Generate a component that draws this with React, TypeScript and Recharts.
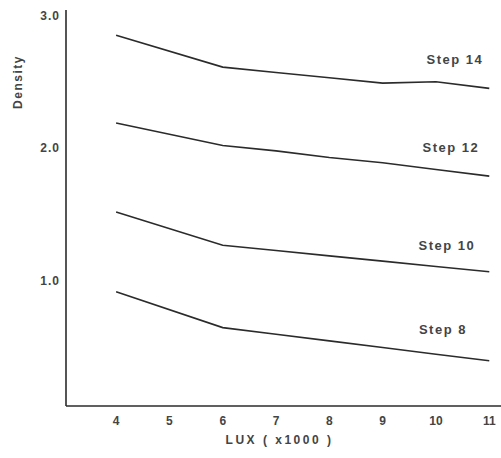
import { LineChart, Line, XAxis, YAxis, Label } from 'recharts';

// LUX values (x1000)
const LUX = [4, 6, 7, 8, 9, 10, 11];
const STEP_14 = [2.85, 2.61, 2.57, 2.53, 2.49, 2.5, 2.45];
const STEP_12 = [2.19, 2.02, 1.98, 1.93, 1.89, 1.84, 1.79];
const STEP_10 = [1.52, 1.27, 1.23, 1.19, 1.15, 1.11, 1.07];
const STEP_8 = [0.92, 0.65, 0.6, 0.55, 0.5, 0.45, 0.4];

const X_TICKS = [4, 5, 6, 7, 8, 9, 10, 11];
const Y_TICKS = [1, 2, 3];

const data = LUX.map((lux, i) => ({
  lux,
  step14: STEP_14[i],
  step12: STEP_12[i],
  step10: STEP_10[i],
  step8: STEP_8[i],
}));

// label sits above the point at LUX = 10
const SERIES = [
  { key: 'step14', name: 'Step 14', dx: 19, dy: -22 },
  { key: 'step12', name: 'Step 12', dx: 15, dy: -22 },
  { key: 'step10', name: 'Step 10', dx: 11, dy: -21 },
  { key: 'step8', name: 'Step 8', dx: 7, dy: -25 },
];

const LABEL_INDEX = LUX.indexOf(10);
const INK = '#2b2b2b';
const TEXT = '#444';
const FONT = '"Liberation Sans", Arial, sans-serif';

export default function App() {
  return (
    <div style={{ position: 'absolute', left: 0, top: 0, width: 501, height: 458, background: '#fff' }}>
      <LineChart width={501} height={458} data={data} margin={{ top: 10, right: 0, bottom: 0, left: 0 }}>
        <XAxis
          dataKey="lux"
          type="number"
          domain={[3.06, 11.22]}
          ticks={X_TICKS}
          allowDataOverflow
          height={52}
          tickLine={false}
          tickSize={8}
          tickMargin={2}
          axisLine={{ stroke: INK, strokeWidth: 1.6 }}
          tick={{ fill: TEXT, fontSize: 12, fontFamily: FONT, fontWeight: 'bold' }}
        >
          <Label
            value="LUX ( x1000 )"
            position="insideBottom"
            offset={14}
            dx={-4}
            style={{ fill: TEXT, fontSize: 12, fontFamily: FONT, fontWeight: 'bold', letterSpacing: 2.5 }}
          />
        </XAxis>
        <YAxis
          type="number"
          domain={[0.06, 3.04]}
          ticks={Y_TICKS}
          allowDataOverflow
          width={66}
          tickLine={false}
          tickSize={6}
          tickMargin={0}
          tickFormatter={(v: number) => v.toFixed(1)}
          axisLine={{ stroke: INK, strokeWidth: 1.6 }}
          tick={{ fill: TEXT, fontSize: 12, fontFamily: FONT, fontWeight: 'bold', letterSpacing: 1 }}
        >
          <Label
            content={(props: any) => {
              const vb = props.viewBox || { x: 0, y: 10 };
              const cx = vb.x + 18;
              const cy = vb.y + 72;
              return (
                <text
                  x={cx}
                  y={cy}
                  transform={`rotate(-90 ${cx} ${cy})`}
                  textAnchor="middle"
                  dominantBaseline="central"
                  style={{ fill: TEXT, fontSize: 12, fontFamily: FONT, fontWeight: 'bold', letterSpacing: 1.5 }}
                >
                  Density
                </text>
              );
            }}
          />
        </YAxis>
        {SERIES.map((s) => (
          <Line
            key={s.key}
            dataKey={s.key}
            name={s.name}
            type="linear"
            stroke={INK}
            strokeWidth={1.6}
            dot={false}
            activeDot={false}
            isAnimationActive={false}
            label={(props: any) =>
              props.index === LABEL_INDEX ? (
                <text
                  key={`${s.key}-label`}
                  x={props.x + s.dx}
                  y={props.y + s.dy}
                  textAnchor="middle"
                  dominantBaseline="central"
                  style={{ fill: TEXT, fontSize: 13, fontFamily: FONT, fontWeight: 'bold', letterSpacing: 1.5 }}
                >
                  {s.name}
                </text>
              ) : (
                <g key={`${s.key}-${props.index}`} />
              )
            }
          />
        ))}
      </LineChart>
    </div>
  );
}
